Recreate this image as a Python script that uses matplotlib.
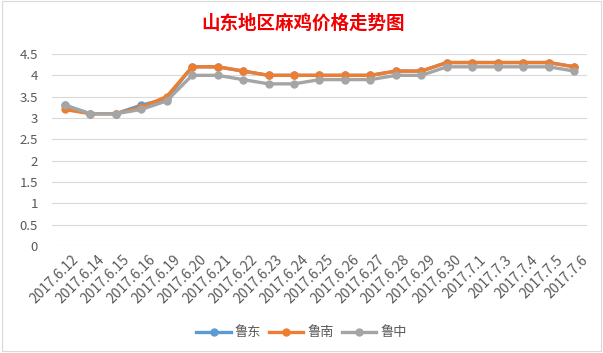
import matplotlib.pyplot as plt
import matplotlib.patches as mpatches
import matplotlib.transforms as mtransforms

plt.rcParams['font.family'] = ['Noto Sans CJK SC', 'DejaVu Sans']

dates = ['2017.6.12', '2017.6.14', '2017.6.15', '2017.6.16', '2017.6.19', '2017.6.20',
         '2017.6.21', '2017.6.22', '2017.6.23', '2017.6.24', '2017.6.25', '2017.6.26',
         '2017.6.27', '2017.6.28', '2017.6.29', '2017.6.30', '2017.7.1', '2017.7.3',
         '2017.7.4', '2017.7.5', '2017.7.6']
ludong = [3.3, 3.1, 3.1, 3.3, 3.45, 4.2, 4.2, 4.1, 4.0, 4.0, 4.0, 4.0, 4.0, 4.1, 4.1,
          4.3, 4.3, 4.3, 4.3, 4.3, 4.2]
lunan = [3.2, 3.1, 3.1, 3.25, 3.5, 4.2, 4.2, 4.1, 4.0, 4.0, 4.0, 4.0, 4.0, 4.1, 4.1,
         4.3, 4.3, 4.3, 4.3, 4.3, 4.2]
luzhong = [3.3, 3.1, 3.1, 3.2, 3.4, 4.0, 4.0, 3.9, 3.8, 3.8, 3.9, 3.9, 3.9, 4.0, 4.0,
           4.2, 4.2, 4.2, 4.2, 4.2, 4.1]
yticks = [0, 0.5, 1, 1.5, 2, 2.5, 3, 3.5, 4, 4.5]

fig = plt.figure(figsize=(6.03, 3.53), dpi=100)
fig.patches.append(mpatches.Rectangle((0.004, 0.006), 0.992, 0.99, transform=fig.transFigure,
                                      fill=False, edgecolor='#d9d9d9', linewidth=0.8))
ax = fig.add_axes([0.0862, 0.3031, 0.8873, 0.5439])

x = list(range(len(dates)))
ax.plot(x, ludong, color='#5B9BD5', lw=2.4, marker='o', ms=5, label='鲁东')
ax.plot(x, lunan, color='#ED7D31', lw=2.4, marker='o', ms=5, label='鲁南')
ax.plot(x, luzhong, color='#A5A5A5', lw=2.4, marker='o', ms=5, label='鲁中')

ax.set_xlim(-0.5, len(dates) - 0.5)
ax.set_ylim(0, 4.5)
ax.set_yticks(yticks)
ax.set_yticklabels([('%g' % v) for v in yticks])
ax.set_xticks(x)
ax.set_xticklabels(dates, rotation=45, ha='right', rotation_mode='anchor')
ax.tick_params(axis='both', length=0, colors='#595959')
ax.tick_params(axis='y', pad=10, labelsize=9.5)
ax.tick_params(axis='x', pad=5, labelsize=10)
# nudge the rotated date labels a little to the right, like Excel does
shift = mtransforms.ScaledTranslation(5 / 72, 0, fig.dpi_scale_trans)
for lbl in ax.get_xticklabels():
    lbl.set_transform(lbl.get_transform() + shift)
ax.grid(axis='y', color='#d9d9d9', lw=0.8)
ax.set_axisbelow(True)
for s in ax.spines.values():
    s.set_visible(False)

fig.text(0.502, 0.935, '山东地区麻鸡价格走势图', ha='center', va='center',
         color='#F00000', fontsize=13.3, fontweight='bold')

fig.legend(loc='center', bbox_to_anchor=(0.5, 0.057), ncol=3, frameon=False,
           fontsize=9.5, handlelength=2.6, columnspacing=0.6, handletextpad=0.3,
           labelcolor='#595959')

fig.savefig('out.png', dpi=100)
